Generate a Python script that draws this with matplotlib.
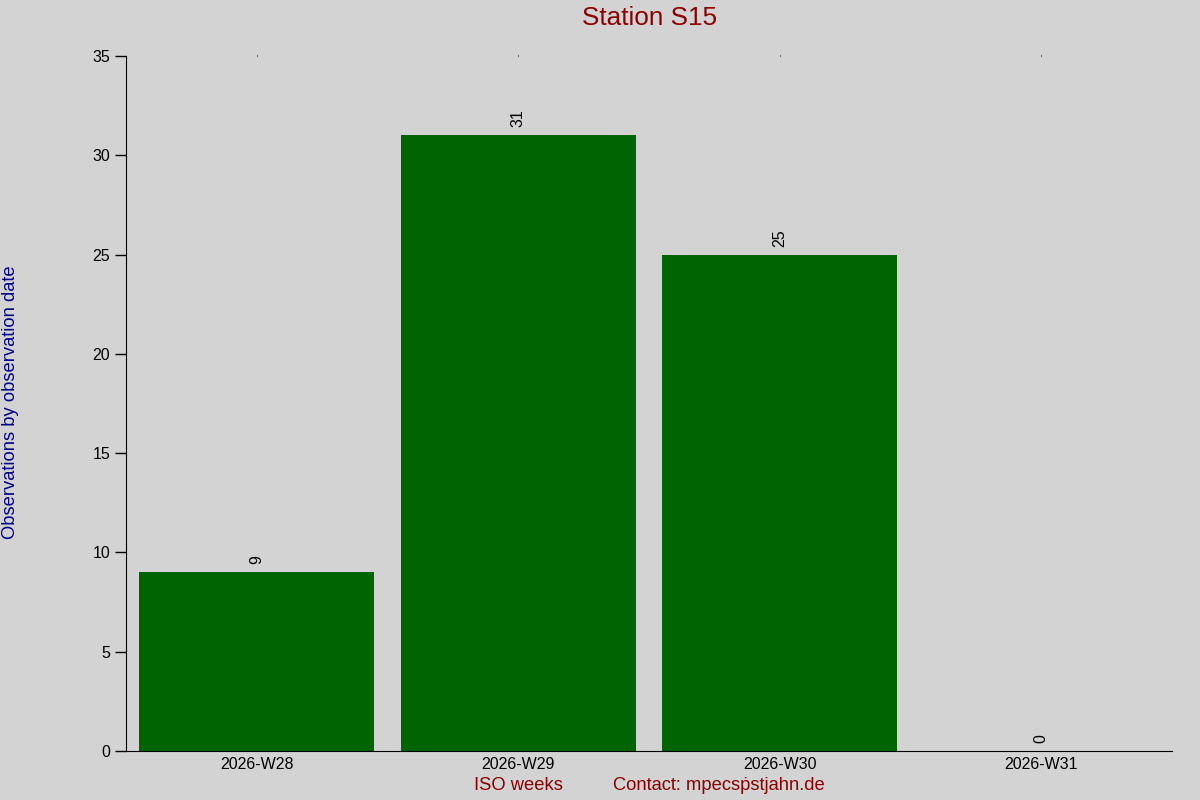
import matplotlib
matplotlib.use("Agg")
import matplotlib.pyplot as plt

plt.rcParams['font.family'] = ['Liberation Sans', 'DejaVu Sans']

weeks = ['2026-W28', '2026-W29', '2026-W30', '2026-W31']
counts = [9, 31, 25, 0]

bg = '#d3d3d3'
fig = plt.figure(figsize=(12, 8), dpi=100, facecolor=bg)
ax = fig.add_axes([0.105, 0.06125, 0.8717, 0.86875], facecolor=bg)

x = list(range(len(weeks)))
ax.bar(x, counts, width=0.9, color='#006400')
for xi, c in zip(x, counts):
    ax.text(xi, c + 0.4, str(c), rotation=90, ha='center', va='bottom', fontsize=11.5)

ax.set_xlim(-0.5, 3.5)
ax.set_ylim(0, 35)
ax.set_xticks(x)
ax.set_xticklabels(weeks, fontsize=11.5)
ax.set_yticks(range(0, 36, 5))
ax.tick_params(axis='y', labelsize=11.5, length=8, width=1)
ax.tick_params(axis='x', bottom=False, top=True, length=1, width=0.8, pad=3)

for s in ['top', 'right']:
    ax.spines[s].set_visible(False)
ax.spines['left'].set_bounds(0, 35)

fig.text(0.541, 0.9775, 'Station S15', ha='center', va='center', fontsize=18.8, color='#8b0000')
fig.text(0.009, 0.4975, 'Observations by observation date', rotation=90, ha='center', va='center',
         fontsize=13.2, color='#00008b')
fig.text(0.4317, 0.018, 'ISO weeks', ha='center', va='center', fontsize=13.2, color='#8b0000')
fig.text(0.599, 0.018, 'Contact: mpecs\u1e57stjahn.de', ha='center', va='center', fontsize=13.2,
         color='#8b0000')

fig.savefig('out.png', dpi=100, facecolor=bg)
